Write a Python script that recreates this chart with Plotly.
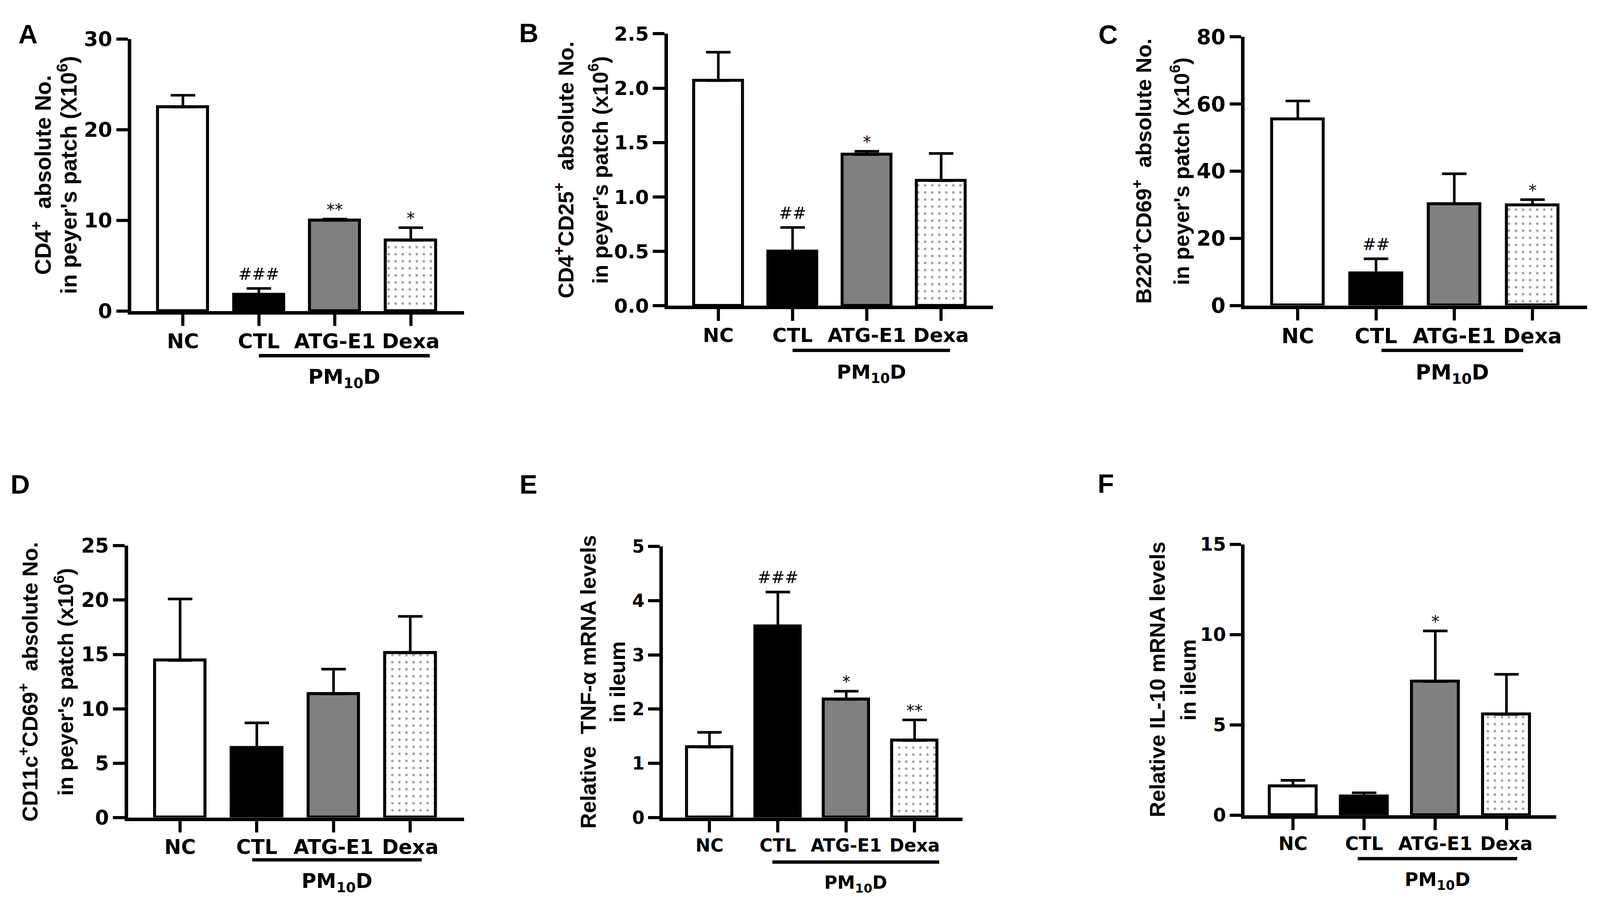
import numpy as np
import plotly.graph_objects as go

# groups shown on every panel
groups = ["NC", "CTL", "ATG-E1", "Dexa"]

# A: CD4+ in peyer's patch (x10^6)
cd4_mean = [22.5, 1.8, 10.0, 7.8]
cd4_err = [1.3, 0.7, 0.15, 1.4]
cd4_sig = ["", "###", "**", "*"]

# B: CD4+CD25+
cd25_mean = [2.07, 0.50, 1.39, 1.15]
cd25_err = [0.26, 0.22, 0.03, 0.25]
cd25_sig = ["", "##", "*", ""]

# C: B220+CD69+
b220_mean = [55.5, 9.6, 30.2, 29.9]
b220_err = [5.4, 4.3, 9.0, 1.6]
b220_sig = ["", "##", "", "*"]

# D: CD11c+CD69+
cd11c_mean = [14.45, 6.4, 11.37, 15.15]
cd11c_err = [5.65, 2.3, 2.28, 3.35]
cd11c_sig = ["", "", "", ""]

# E: TNF-a mRNA in ileum
tnf_mean = [1.30, 3.53, 2.18, 1.42]
tnf_err = [0.27, 0.63, 0.15, 0.38]
tnf_sig = ["", "###", "*", "**"]

# F: IL-10 mRNA in ileum
il10_mean = [1.61, 1.05, 7.4, 5.58]
il10_err = [0.32, 0.19, 2.8, 2.22]
il10_sig = ["", "", "*", ""]

W, H = 4316, 2354
K = 0.95  # page renders a bit larger than the nominal window, shrink px sizes
TICK_FONT = "DejaVu Sans"
LABEL_FONT = "Liberation Sans, Arial"

bar_colors = ["white", "black", "#808080", "white"]
bar_patterns = ["", "", "", "."]


def fx(px):
    return px / W


def fy(py):
    return 1 - py / H


# panel layout in pixels: plot box, letter, y title lines, PM10D bracket
panels = [
    dict(letter="A", mean=cd4_mean, err=cd4_err, sig=cd4_sig, ymax=30, dtick=10, fmt="", fs=55,
         yt=["CD4<sup>+</sup>  absolute No.", "in peyer's patch (X10<sup>6</sup>)"], yt_size=60,
         box=(347, 1248, 64, 784), let=(67, 51), yt_x=(104, 174), br=(1.0, 3.25, 902), pm_y=962),
    dict(letter="B", mean=cd25_mean, err=cd25_err, sig=cd25_sig, ymax=2.5, dtick=0.5, fmt=".1f", fs=53,
         yt=["CD4<sup>+</sup>CD25<sup>+</sup>  absolute No.", "in peyer's patch (x10<sup>6</sup>)"], yt_size=58,
         box=(1800, 2681, 50, 770), let=(1423, 48), yt_x=(1520, 1613), br=(1.0, 3.12, 888), pm_y=948),
    dict(letter="C", mean=b220_mean, err=b220_err, sig=b220_sig, ymax=80, dtick=20, fmt="", fs=56,
         yt=["B220<sup>+</sup>CD69<sup>+</sup>  absolute No.", "in peyer's patch (x10<sup>6</sup>)"], yt_size=58,
         box=(3362, 4290, 58, 769), let=(2992, 52), yt_x=(3084, 3187), br=(1.07, 2.88, 888), pm_y=950),
    dict(letter="D", mean=cd11c_mean, err=cd11c_err, sig=cd11c_sig, ymax=25, dtick=5, fmt="", fs=54,
         yt=["CD11c<sup>+</sup>CD69<sup>+</sup>  absolute No.", "in peyer's patch (x10<sup>6</sup>)"], yt_size=58,
         box=(338, 1248, 1405, 2124), let=(46, 1242), yt_x=(69, 165), br=(0.94, 3.15, 2236), pm_y=2296),
    dict(letter="E", mean=tnf_mean, err=tnf_err, sig=tnf_sig, ymax=5, dtick=1, fmt="", fs=48,
         yt=["Relative  TNF-α mRNA levels", "in ileum"], yt_size=58,
         box=(1787, 2598, 1407, 2124), let=(1423, 1242), yt_x=(1585, 1664), br=(0.92, 3.36, 2242), pm_y=2300),
    dict(letter="F", mean=il10_mean, err=il10_err, sig=il10_sig, ymax=15, dtick=5, fmt="", fs=50,
         yt=["Relative IL-10 mRNA levels", "in ileum"], yt_size=58,
         box=(3362, 4206, 1401, 2118), let=(2986, 1240), yt_x=(3126, 3210), br=(0.91, 3.15, 2233), pm_y=2292),
]

xpos = np.arange(len(groups))

fig = go.Figure()
annotations = []
shapes = []

for i, p in enumerate(panels, start=1):
    sfx = "" if i == 1 else str(i)
    left, right, top, bottom = p["box"]
    tfont = dict(family=TICK_FONT, size=p["fs"] * K, color="black", weight="bold")

    fig.add_trace(go.Bar(
        x=xpos, y=p["mean"], width=0.66,
        xaxis="x" + sfx, yaxis="y" + sfx,
        marker=dict(color=bar_colors, line=dict(color="black", width=8 * K),
                    pattern=dict(shape=bar_patterns, fgcolor="black", bgcolor="white",
                                 size=19 * K, solidity=0.1)),
        error_y=dict(type="data", symmetric=False, array=p["err"],
                     arrayminus=[0] * len(groups), color="black",
                     thickness=7 * K, width=33 * K),
        showlegend=False,
    ))

    fig.update_layout({
        "xaxis" + sfx: dict(
            domain=[fx(left), fx(right)], anchor="y" + sfx,
            range=[-0.68, 3.70], tickvals=xpos, ticktext=groups, tickangle=0,
            showline=True, linecolor="black", linewidth=9 * K,
            ticks="outside", ticklen=31 * K, tickwidth=8 * K, tickcolor="black",
            ticklabelstandoff=-6, tickfont=tfont,
            showgrid=False, zeroline=False, fixedrange=True,
        ),
        "yaxis" + sfx: dict(
            domain=[fy(bottom), fy(top)], anchor="x" + sfx,
            range=[0, p["ymax"]], dtick=p["dtick"], tick0=0, tickformat=p["fmt"],
            showline=True, linecolor="black", linewidth=9 * K,
            ticks="outside", ticklen=31 * K, tickwidth=8 * K, tickcolor="black",
            tickfont=tfont,
            showgrid=False, zeroline=False, fixedrange=True,
        ),
    })

    # significance marks above the error bars
    for k, s in enumerate(p["sig"]):
        if s:
            annotations.append(dict(
                x=xpos[k], y=p["mean"][k] + p["err"][k], xref="x" + sfx, yref="y" + sfx,
                text=s, showarrow=False, yanchor="bottom",
                yshift=(11 if "#" in s else -3) * K,
                font=dict(family="DejaVu Sans", size=44 * K, color="black"),
            ))

    # panel letter
    annotations.append(dict(
        x=fx(p["let"][0]), y=fy(p["let"][1]), xref="paper", yref="paper",
        text="<b>" + p["letter"] + "</b>", showarrow=False,
        xanchor="center", yanchor="middle",
        font=dict(family=LABEL_FONT, size=72 * K, color="black"),
    ))

    # y axis title, one annotation per line
    for line, lx in zip(p["yt"], p["yt_x"]):
        annotations.append(dict(
            x=fx(lx), y=fy((top + bottom) / 2), xref="paper", yref="paper",
            text="<b>" + line + "</b>", showarrow=False, textangle=-90,
            xanchor="center", yanchor="middle",
            font=dict(family=LABEL_FONT, size=p["yt_size"] * K, color="black"),
        ))

    # PM10D group bracket
    x0, x1, yb = p["br"]
    shapes.append(dict(
        type="line", xref="x" + sfx, yref="paper",
        x0=x0, x1=x1, y0=fy(yb), y1=fy(yb),
        line=dict(color="black", width=9 * K),
    ))
    annotations.append(dict(
        x=(x0 + x1) / 2, y=fy(p["pm_y"]), xref="x" + sfx, yref="paper",
        text="<b>PM<sub>10</sub>D</b>", showarrow=False,
        xanchor="center", yanchor="middle",
        font=dict(family=TICK_FONT, size=p["fs"] * K, color="black"),
    ))

fig.update_layout(
    autosize=True,
    margin=dict(l=0, r=0, t=0, b=0),
    paper_bgcolor="white", plot_bgcolor="white",
    bargap=0, annotations=annotations, shapes=shapes,
    showlegend=False,
)

fig.write_html("out.html")
